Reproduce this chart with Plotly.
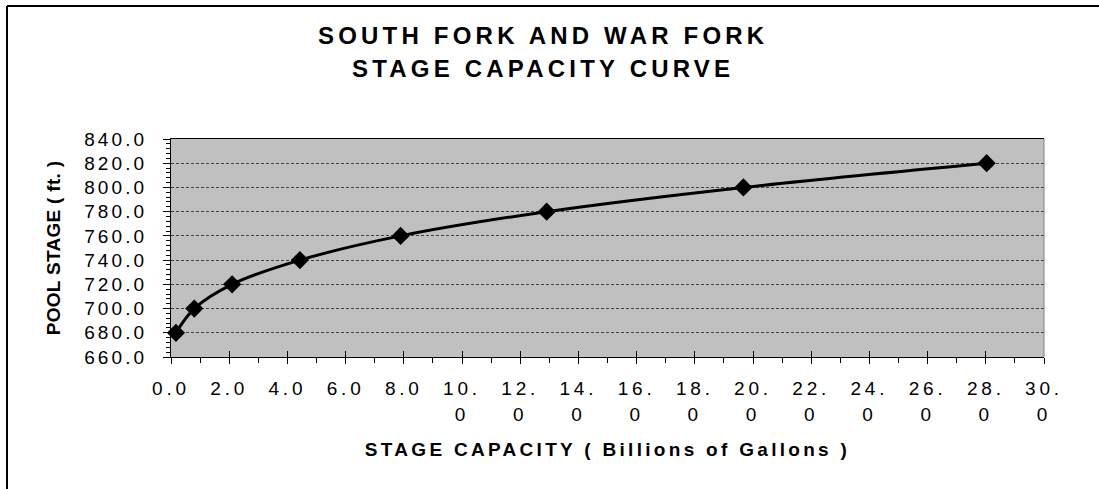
import plotly.graph_objects as go

# ---- data ----
capacity_bgal = [0.17, 0.80, 2.10, 4.43, 7.89, 12.91, 19.67, 28.03]
pool_stage_ft = [680.0, 700.0, 720.0, 740.0, 760.0, 780.0, 800.0, 820.0]

x_tick_vals = [0, 2, 4, 6, 8, 10, 12, 14, 16, 18, 20, 22, 24, 26, 28, 30]
x_tick_text = ["0.0", "2.0", "4.0", "6.0", "8.0", "10.<br>0", "12.<br>0", "14.<br>0",
               "16.<br>0", "18.<br>0", "20.<br>0", "22.<br>0", "24.<br>0", "26.<br>0",
               "28.<br>0", "30.<br>0"]
y_tick_vals = [660, 680, 700, 720, 740, 760, 780, 800, 820, 840]
y_tick_text = ["660.0", "680.0", "700.0", "720.0", "740.0", "760.0", "780.0", "800.0",
               "820.0", "840.0"]

title_lines = ["SOUTH FORK AND WAR FORK", "STAGE CAPACITY CURVE"]
x_title = "STAGE CAPACITY ( Billions of Gallons )"
y_title = "POOL STAGE ( ft. )"

FONT = "Liberation Sans, Arial, sans-serif"

def spaced(t, px, size=None):
    st = f"letter-spacing:{px}px"
    if size:
        st += f";font-size:{size}px"
    return f'<span style="{st}">{t}</span>'

W, H = 1099, 489
L, R, T, B = 171, 55, 139, 132
pw, ph = W - L - R, H - T - B

def px_x(p):
    return (p - L) / pw

def px_y(p):
    return (H - B - p) / ph

fig = go.Figure()
fig.add_trace(go.Scatter(
    x=capacity_bgal, y=pool_stage_ft, mode="lines+markers",
    line=dict(color="black", width=3, shape="spline", smoothing=1.0),
    marker=dict(symbol="diamond", size=14, color="black"),
    showlegend=False, cliponaxis=False,
))
# invisible trace on overlay axis for inward half of crossing ticks
fig.add_trace(go.Scatter(x=[None], y=[None], xaxis="x2", showlegend=False))

fig.update_layout(
    width=W, height=H,
    margin=dict(l=L, r=R, t=T, b=B),
    paper_bgcolor="white",
    plot_bgcolor="#C0C0C0",
    font=dict(family=FONT, color="black"),
    xaxis=dict(
        range=[0, 30], tickmode="array", tickvals=x_tick_vals,
        ticktext=[spaced(t, 3.8, 19) for t in x_tick_text],
        tickfont=dict(size=19.5, family=FONT),
        ticks="outside", ticklen=6, tickcolor="black", tickwidth=1,
        minor=dict(dtick=1, ticks="outside", ticklen=5, tickcolor="black", showgrid=False),
        showgrid=False, zeroline=False,
        showline=True, linecolor="black", linewidth=1, mirror=True,
        title=dict(text=spaced(x_title, 3.3), font=dict(size=19, family=FONT, weight="bold"),
                   standoff=18),
        ticklabelstandoff=8,
    ),
    xaxis2=dict(
        range=[0, 30], overlaying="x", side="bottom", tickvals=x_tick_vals,
        showticklabels=False, ticks="inside", ticklen=6, tickcolor="black",
        showgrid=False, zeroline=False, showline=False,
    ),
    yaxis=dict(
        range=[660, 840], tickmode="array", tickvals=y_tick_vals,
        ticktext=[spaced(t, 3.1) for t in y_tick_text],
        tickfont=dict(size=19, family=FONT),
        ticks="outside", ticklen=7, tickcolor="black", tickwidth=1,
        minor=dict(dtick=4, ticks="outside", ticklen=4, tickcolor="black", showgrid=False),
        showgrid=True, gridcolor="#404040", gridwidth=1, griddash="3px,2px",
        zeroline=False, showline=True, linecolor="black", linewidth=1,
        title=dict(text=spaced(y_title, 0.3), font=dict(size=19, family=FONT, weight="bold"),
                   standoff=18),
        ticklabelstandoff=12,
    ),
    shapes=[
        # right edge of plot area
        dict(type="line", xref="x domain", yref="y domain", x0=1, x1=1, y0=0, y1=1,
             line=dict(color="#808080", width=1)),
        # chart border (top and left)
        dict(type="line", xref="paper", yref="paper", x0=px_x(7), x1=px_x(W + 10),
             y0=px_y(6), y1=px_y(6), line=dict(color="black", width=2)),
        dict(type="line", xref="paper", yref="paper", x0=px_x(7), x1=px_x(7),
             y0=px_y(6), y1=px_y(H + 10), line=dict(color="black", width=2)),
    ],
    annotations=[
        dict(text=spaced(title_lines[0], 4.2), xref="paper", yref="paper",
             x=px_x(543), y=px_y(35), xanchor="center", yanchor="middle", showarrow=False,
             font=dict(size=24, family=FONT, weight="bold")),
        dict(text=spaced(title_lines[1], 4.2), xref="paper", yref="paper",
             x=px_x(543), y=px_y(69), xanchor="center", yanchor="middle", showarrow=False,
             font=dict(size=24, family=FONT, weight="bold")),
    ],
)

fig.write_html("out.html")
